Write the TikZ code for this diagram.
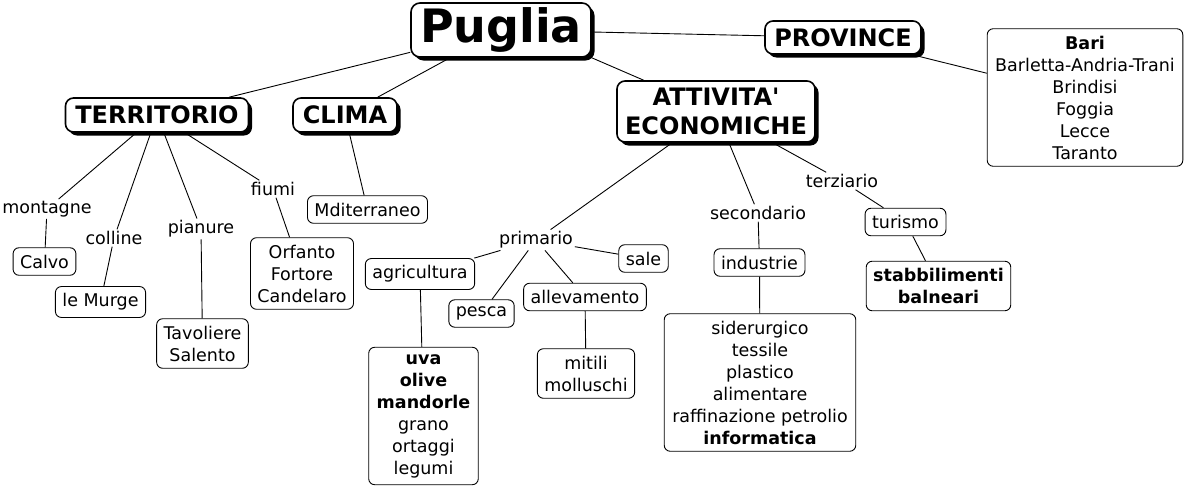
\documentclass[tikz,border=0pt]{standalone}
\usepackage{fontspec}
\setmainfont{DejaVu Sans}
\usetikzlibrary{shadows}

\begin{document}
\begin{tikzpicture}[x=1pt, y=-1pt, line width=0.9pt,
  every node/.style={font=\fontsize{17.5}{22}\selectfont},
  concept/.style={draw, line width=1.6pt, rounded corners=8pt, fill=white,
    align=center, font=\fontsize{24}{29}\selectfont\bfseries,
    drop shadow={shadow xshift=3.5pt, shadow yshift=-3.5pt, fill=black, opacity=1}},
  leaf/.style={draw, line width=0.9pt, rounded corners=6pt, fill=white,
    align=center, inner xsep=7pt, inner ysep=7pt},
  link/.style={inner sep=1.5pt},
  edge/.style={line width=0.9pt}]
  \useasboundingbox (0,0) rectangle (1191,488);

  % main concepts
  \node[concept, minimum width=180pt, minimum height=54pt, rounded corners=9pt,
        font=\fontsize{46}{50}\selectfont\bfseries] (puglia) at (501,30) {Puglia};
  \node[concept, minimum width=183pt, minimum height=34pt] (territorio) at (157,115) {TERRITORIO};
  \node[concept, minimum width=104pt, minimum height=34pt] (clima) at (345,115) {CLIMA};
  \node[concept, minimum width=198pt, minimum height=61pt] (attivita) at (716,111.5)
       {ATTIVITA\textquotesingle\\ECONOMICHE};
  \node[concept, minimum width=156pt, minimum height=33pt] (province) at (843,37.5) {PROVINCE};

  % provinces
  \node[leaf, inner xsep=8pt] (elenco) at (1085,97.5)
       {\textbf{Bari}\\Barletta-Andria-Trani\\Brindisi\\Foggia\\Lecce\\Taranto};

  % territory
  \node[link] (montagne) at (47,209) {montagne};
  \node[leaf] (calvo) at (44.5,261.5) {Calvo};
  \node[link] (colline) at (114,238) {colline};
  \node[leaf] (murge) at (100.5,302) {le Murge};
  \node[link] (pianure) at (201,229) {pianure};
  \node[leaf] (tavoliere) at (202.5,343.5) {Tavoliere\\Salento};
  \node[link] (fiumi) at (273,189) {fiumi};
  \node[leaf] (fiumibox) at (302,273.5) {Orfanto\\Fortore\\Candelaro};

  % climate
  \node[leaf] (mediterraneo) at (367.5,209.5) {Mditerraneo};

  % primary sector
  \node[link] (primario) at (536,240) {primario};
  \node[leaf] (agricoltura) at (420,274) {agricultura};
  \node[leaf] (pesca) at (481.5,313.5) {pesca};
  \node[leaf] (allevamento) at (585,297) {allevamento};
  \node[leaf] (sale) at (643.5,258.5) {sale};
  \node[leaf, inner xsep=8pt] (colture) at (423.5,416)
       {\textbf{uva}\\\textbf{olive}\\\textbf{mandorle}\\grano\\ortaggi\\legumi};
  \node[leaf] (mitili) at (586,373.5) {mitili\\molluschi};

  % secondary and tertiary sectors
  \node[link] (secondario) at (758,213) {secondario};
  \node[leaf] (industrie) at (759.5,262.5) {industrie};
  \node[leaf, inner xsep=8pt] (settori) at (760,382.5)
       {siderurgico\\tessile\\plastico\\alimentare\\raffinazione petrolio\\\textbf{informatica}};
  \node[link] (terziario) at (842,181) {terziario};
  \node[leaf] (turismo) at (905.5,222) {turismo};
  \node[leaf] (stabilimenti) at (938.5,286) {\textbf{stabbilimenti}\\\textbf{balneari}};

  % links from the root
  \draw[edge] (puglia) -- (territorio);
  \draw[edge] (puglia) -- (clima);
  \draw[edge] (puglia.south east) -- (attivita);
  \draw[edge] (puglia) -- (province);
  \draw[edge] (province) -- (elenco);

  % territory branches
  \draw[edge] (territorio) -- (montagne);
  \draw[edge] (montagne) -- (calvo);
  \draw[edge] (territorio) -- (colline);
  \draw[edge] (colline) -- (murge);
  \draw[edge] (territorio) -- (pianure);
  \draw[edge] (pianure) -- (tavoliere);
  \draw[edge] (territorio) -- (fiumi);
  \draw[edge] (fiumi) -- (fiumibox);
  \draw[edge] (clima) -- (mediterraneo);

  % economy branches
  \draw[edge] (attivita) -- (primario);
  \draw[edge] (primario) -- (agricoltura);
  \draw[edge] (primario) -- (pesca);
  \draw[edge] (primario) -- (allevamento);
  \draw[edge] (primario) -- (sale);
  \draw[edge] (agricoltura) -- (colture);
  \draw[edge] (allevamento) -- (mitili);
  \draw[edge] (attivita) -- (secondario);
  \draw[edge] (secondario) -- (industrie);
  \draw[edge] (industrie) -- (settori);
  \draw[edge] (attivita) -- (terziario);
  \draw[edge] (terziario) -- (turismo);
  \draw[edge] (turismo) -- (stabilimenti);
\end{tikzpicture}
\end{document}
